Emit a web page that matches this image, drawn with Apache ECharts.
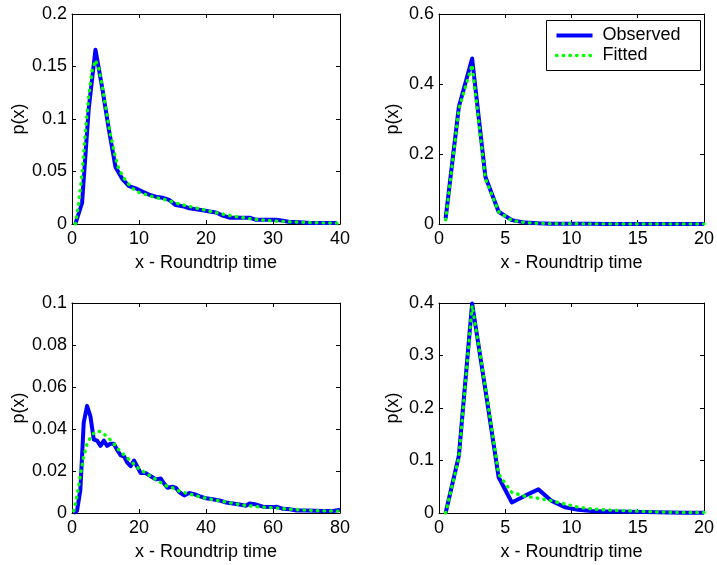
<!DOCTYPE html>
<html>
<head>
<meta charset="utf-8">
<script src="https://cdn.jsdelivr.net/npm/echarts@6/dist/echarts.min.js"></script>
<style>html,body{margin:0;padding:0;background:#fff;}#c{width:717px;height:565px;}</style>
</head>
<body>
<div id="c"></div>
<script>
// ---- Panel 1 (top-left) ----
const p1ObsX = [0.5,1.5,2.5,3.5,4.5,5.5,6.5,7.5,8.5,9.5,10.5,11.5,12.5,13.5,14.5,15.5,16.5,17.5,18.5,19.5,20.5,21.5,22.5,23.5,24.5,25.5,26.5,27.5,28.5,29.5,30.5,31.5,32.5,33.5,34.5,35.5,36.5,37.5,38.5,39.5];
const p1ObsY = [0,0.02,0.11,0.166,0.13,0.09,0.054,0.043,0.036,0.034,0.031,0.028,0.026,0.025,0.023,0.018,0.017,0.015,0.014,0.013,0.012,0.011,0.008,0.006,0.006,0.006,0.006,0.004,0.004,0.004,0.004,0.003,0.002,0.002,0.0015,0.001,0.001,0.001,0.001,0.001];
const p1FitX = [0.5,1,1.5,2,2.5,3,3.5,4,4.5,5,5.5,6,6.5,7,8,9,10,12,14,16,18,20,22,24,26,28,30,32,35,38,40];
const p1FitY = [0,0.02,0.048,0.088,0.122,0.146,0.156,0.148,0.132,0.112,0.093,0.077,0.063,0.052,0.041,0.034,0.030,0.026,0.023,0.019,0.016,0.013,0.010,0.0075,0.0055,0.004,0.003,0.0022,0.0015,0.001,0.0008];

// ---- Panel 2 (top-right) ----
const p2ObsX = [0.5,1.5,2.5,3.5,4.5,5.5,6.5,7.5,8.5,9.5,10.5,11.5,12.5,13.5,14.5,15.5,16.5,17.5,18.5,19.5,20];
const p2ObsY = [0.016,0.335,0.473,0.135,0.035,0.011,0.004,0.002,0.001,0.001,0.0005,0.0005,0.0003,0.0003,0.0002,0.0002,0.0001,0.0001,0.0001,0.0001,0.0001];
const p2FitX = [0.5,1.5,2.5,3.5,4.5,5.5,6.5,7.5,8.5,9.5,10.5,11.5,12.5,13.5,14.5,15.5,16.5,17.5,18.5,19.5,20];
const p2FitY = [0.012,0.33,0.455,0.13,0.035,0.01,0.004,0.002,0.001,0.0008,0.0005,0.0004,0.0003,0.0002,0.0002,0.0001,0.0001,0.0001,0.0001,0.0001,0.0001];

// ---- Panel 3 (bottom-left) ----
const p3ObsX = [0.5,1.5,2.5,3.5,4.5,5.5,6.5,7.5,8.5,9.5,10.5,11.5,12.5,13.5,14.5,15.5,16.5,17.5,18.5,19.5,20.5,22,24,25,26.5,27.5,28.5,30,31,32,33.5,35,36.5,38,40,42,44,46,48,50,52,53,55,57,60,61,63,65,67,70,75,78,80];
const p3ObsY = [0,0.001,0.011,0.043,0.051,0.046,0.035,0.0345,0.032,0.0345,0.032,0.033,0.033,0.030,0.0275,0.027,0.024,0.0223,0.025,0.022,0.019,0.019,0.017,0.016,0.0164,0.014,0.012,0.0125,0.012,0.010,0.0084,0.0095,0.009,0.008,0.007,0.0065,0.006,0.005,0.0045,0.004,0.0035,0.0045,0.004,0.003,0.0028,0.003,0.002,0.0018,0.0012,0.0012,0.001,0.001,0.0015];
const p3FitX = [0.5,1.5,2.5,3.5,4.5,5.5,6.5,7.5,8.5,10,12,14,16,18,20,22,24,26,28,30,32,35,38,40,45,50,55,60,65,70,75,80];
const p3FitY = [0.001,0.008,0.018,0.027,0.033,0.036,0.038,0.039,0.0388,0.037,0.034,0.030,0.027,0.024,0.021,0.019,0.017,0.015,0.013,0.012,0.0105,0.009,0.0078,0.007,0.0055,0.004,0.003,0.0025,0.0018,0.0013,0.001,0.0009];

// ---- Panel 4 (bottom-right) ----
const p4ObsX = [0.5,1.5,2.5,3.5,4.5,5.5,6.5,7.5,8.5,9.5,10.5,11.5,12.5,13.5,14.5,15.5,16.5,17.5,18.5,19.5,20];
const p4ObsY = [0,0.109,0.399,0.235,0.068,0.02,0.033,0.045,0.023,0.011,0.006,0.004,0.003,0.003,0.0025,0.002,0.0015,0.001,0.0005,0.0003,0.0003];
const p4FitX = [0.5,1.5,2.5,3.5,4.5,5.5,6.5,7.5,8.5,9.5,10.5,11.5,12.5,13.5,14.5,15.5,16.5,17.5,18.5,19.5,20];
const p4FitY = [0,0.105,0.395,0.24,0.074,0.039,0.032,0.028,0.023,0.017,0.011,0.008,0.006,0.005,0.004,0.003,0.002,0.0015,0.001,0.001,0.001];

// axis ranges
const xMax = [40, 20, 80, 20];
const xStep = [10, 5, 20, 5];
const yMax = [0.2, 0.6, 0.1, 0.4];
const yStep = [0.05, 0.2, 0.02, 0.1];

const xTitle = 'x - Roundtrip time';
const yTitle = 'p(x)';
const seriesNames = ['Observed', 'Fitted'];

const panels = [
  [p1ObsX, p1ObsY, p1FitX, p1FitY],
  [p2ObsX, p2ObsY, p2FitX, p2FitY],
  [p3ObsX, p3ObsY, p3FitX, p3FitY],
  [p4ObsX, p4ObsY, p4FitX, p4FitY]
];

const FONT = 'Liberation Sans, Arial, Helvetica, sans-serif';
const FS = 18;
const BLUE = '#0000ff', GREEN = '#00ff00';
const DOTS = [0.5, 6.2];
const grids = [
  {left: 72, top: 14, width: 268, height: 210},
  {left: 439, top: 14, width: 268, height: 210},
  {left: 72, top: 303, width: 268, height: 210},
  {left: 439, top: 303, width: 268, height: 210}
];

const zip = (a, b) => a.map((v, i) => [v, b[i]]);
const lineBlack = {show: true, onZero: false, lineStyle: {color: '#000', width: 1}};
const tick = {show: true, inside: true, length: 4, lineStyle: {color: '#000', width: 1}};

const xAxes = [], yAxes = [], series = [];
for (let i = 0; i < 4; i++) {
  xAxes.push({
    gridIndex: i, type: 'value', position: 'bottom', min: 0, max: xMax[i], interval: xStep[i],
    axisLine: lineBlack, axisTick: tick, splitLine: {show: false},
    axisLabel: {color: '#000', fontSize: FS, fontFamily: FONT, margin: 6},
    name: xTitle, nameLocation: 'middle', nameGap: 30,
    nameTextStyle: {color: '#000', fontSize: FS, fontFamily: FONT}
  });
  xAxes.push({
    gridIndex: i, type: 'value', position: 'top', min: 0, max: xMax[i], interval: xStep[i],
    axisLine: lineBlack, axisTick: tick, splitLine: {show: false}, axisLabel: {show: false}
  });
  yAxes.push({
    gridIndex: i, type: 'value', position: 'left', min: 0, max: yMax[i], interval: yStep[i],
    axisLine: lineBlack, axisTick: tick, splitLine: {show: false},
    axisLabel: {color: '#000', fontSize: FS, fontFamily: FONT, margin: 5},
    name: yTitle, nameLocation: 'middle', nameGap: 37,
    nameTextStyle: {color: '#000', fontSize: FS, fontFamily: FONT}
  });
  yAxes.push({
    gridIndex: i, type: 'value', position: 'right', min: 0, max: yMax[i], interval: yStep[i],
    axisLine: lineBlack, axisTick: tick, splitLine: {show: false}, axisLabel: {show: false}
  });
  const [ox, oy, fx, fy] = panels[i];
  series.push({
    name: seriesNames[0], type: 'line', xAxisIndex: 2 * i, yAxisIndex: 2 * i,
    data: zip(ox, oy), symbol: 'none', z: 2,
    lineStyle: {color: BLUE, width: 4, join: 'round'}, itemStyle: {color: BLUE}
  });
  series.push({
    name: seriesNames[1], type: 'line', xAxisIndex: 2 * i, yAxisIndex: 2 * i,
    data: zip(fx, fy), symbol: 'none', z: 3,
    lineStyle: {color: GREEN, width: 3.4, type: DOTS, cap: 'round', join: 'round'}, itemStyle: {color: GREEN}
  });
}

// legend box (drawn as graphic, placed inside the top-right panel)
const legendGraphic = {
  type: 'group', left: 546, top: 20, z: 100,
  children: [
    {type: 'rect', shape: {x: 0, y: 0, width: 154, height: 50}, style: {fill: '#fff', stroke: '#000', lineWidth: 1}},
    {type: 'line', shape: {x1: 10, y1: 15, x2: 46, y2: 15}, style: {stroke: BLUE, lineWidth: 4}},
    {type: 'line', shape: {x1: 10, y1: 35, x2: 46, y2: 35}, style: {stroke: GREEN, lineWidth: 3.4, lineDash: DOTS, lineCap: 'round'}},
    {type: 'text', x: 56, y: 15, style: {text: seriesNames[0], fill: '#000', font: FS + 'px ' + FONT, verticalAlign: 'middle'}},
    {type: 'text', x: 56, y: 35, style: {text: seriesNames[1], fill: '#000', font: FS + 'px ' + FONT, verticalAlign: 'middle'}}
  ]
};

const chart = echarts.init(document.getElementById('c'), null, {renderer: 'canvas'});
chart.setOption({
  animation: false,
  backgroundColor: '#fff',
  grid: grids,
  xAxis: xAxes,
  yAxis: yAxes,
  graphic: [legendGraphic],
  series: series
});
</script>
</body>
</html>
